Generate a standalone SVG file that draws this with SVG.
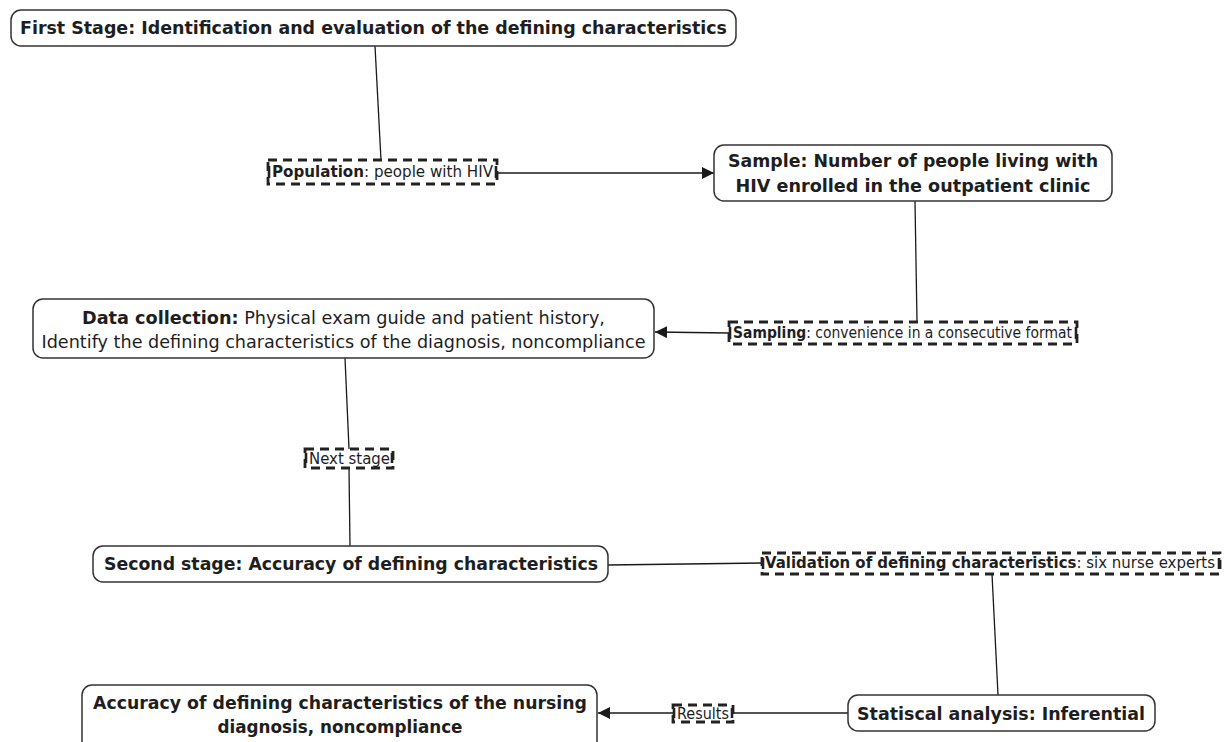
<svg xmlns="http://www.w3.org/2000/svg" width="1230" height="742" viewBox="0 0 1230 742">
<defs>
<marker id="arr" viewBox="0 0 10 10" refX="10" refY="5" markerWidth="12" markerHeight="12" markerUnits="userSpaceOnUse" orient="auto"><path d="M0,0 L10,5 L0,10 z" fill="#1a1a1a"/></marker>
<style>
.node{fill:#fff;stroke:#333;stroke-width:1.5}
.lab{fill:#fff;stroke:#222;stroke-width:2.8;stroke-dasharray:9 6}
.tick{stroke:#222;stroke-width:2.6}
.edge{stroke:#1a1a1a;stroke-width:1.3;fill:none}
text{font-family:"DejaVu Sans","Verdana",sans-serif;fill:#1e1e1e}
.b{font-weight:bold}
.t16{font-size:17px}
.t14{font-size:15px}
</style>
</defs>
<rect width="1230" height="742" fill="#fff"/>
<g id="connectors">
<path class="edge" d="M375,46 L381,160"/>
<path class="edge" d="M497,173 L714,173" marker-end="url(#arr)"/>
<path class="edge" d="M915,201 L917,322"/>
<path class="edge" d="M729,333 L655,332" marker-end="url(#arr)"/>
<path class="edge" d="M345,358 L349,449"/>
<path class="edge" d="M349,468 L350,546"/>
<path class="edge" d="M608,565 L763,563"/>
<path class="edge" d="M992,574 L998,695"/>
<path class="edge" d="M848,713 L733,713"/>
<path class="edge" d="M673,713 L598,713" marker-end="url(#arr)"/>
</g>
<g id="n1">
<rect class="node" x="11" y="10" width="725" height="36" rx="10"/>
<text class="b t16" x="373.5" y="34" text-anchor="middle" textLength="707" lengthAdjust="spacingAndGlyphs">First Stage: Identification and evaluation of the defining characteristics</text>
</g>
<g id="l1">
<rect class="lab" x="268" y="160" width="229" height="24"/>
<line class="tick" x1="269" y1="166" x2="269" y2="178"/><line class="tick" x1="496" y1="166" x2="496" y2="178"/>
<text class="t14" x="272" y="177" textLength="221" lengthAdjust="spacingAndGlyphs"><tspan class="b">Population</tspan>: people with HIV</text>
</g>
<g id="n2">
<rect class="node" x="714" y="145" width="398" height="56" rx="10"/>
<text class="b t16" x="913" y="167" text-anchor="middle" textLength="370" lengthAdjust="spacingAndGlyphs">Sample: Number of people living with</text>
<text class="b t16" x="913" y="192" text-anchor="middle" textLength="355" lengthAdjust="spacingAndGlyphs">HIV enrolled in the outpatient clinic</text>
</g>
<g id="l2">
<rect class="lab" x="729" y="322" width="348" height="22"/>
<line class="tick" x1="730" y1="327" x2="730" y2="339"/><line class="tick" x1="1076" y1="327" x2="1076" y2="339"/>
<text class="t14" x="733" y="338" textLength="339" lengthAdjust="spacingAndGlyphs"><tspan class="b">Sampling</tspan>: convenience in a consecutive format</text>
</g>
<g id="n3">
<rect class="node" x="33" y="299" width="621" height="59" rx="10"/>
<text class="t16" x="343.5" y="324" text-anchor="middle" textLength="523" lengthAdjust="spacingAndGlyphs"><tspan class="b">Data collection:</tspan> Physical exam guide and patient history,</text>
<text class="t16" x="343.5" y="348" text-anchor="middle" textLength="604" lengthAdjust="spacingAndGlyphs">Identify the defining characteristics of the diagnosis, noncompliance</text>
</g>
<g id="l3">
<rect class="lab" x="305" y="449" width="88" height="19"/>
<line class="tick" x1="306" y1="453" x2="306" y2="463"/><line class="tick" x1="392" y1="453" x2="392" y2="463"/>
<text class="t14" x="309" y="464" textLength="81" lengthAdjust="spacingAndGlyphs">Next stage</text>
</g>
<g id="n4">
<rect class="node" x="93" y="546" width="515" height="36" rx="10"/>
<text class="b t16" x="351" y="570" text-anchor="middle" textLength="494" lengthAdjust="spacingAndGlyphs">Second stage: Accuracy of defining characteristics</text>
</g>
<g id="l4">
<rect class="lab" x="762" y="553" width="458" height="21"/>
<line class="tick" x1="763" y1="558" x2="763" y2="569"/><line class="tick" x1="1219" y1="558" x2="1219" y2="569"/>
<text class="t14" x="765" y="568" textLength="450" lengthAdjust="spacingAndGlyphs"><tspan class="b">Validation of defining characteristics</tspan>: six nurse experts</text>
</g>
<g id="n5">
<rect class="node" x="848" y="695" width="307" height="36" rx="10"/>
<text class="b t16" x="1001" y="720" text-anchor="middle" textLength="288" lengthAdjust="spacingAndGlyphs">Statiscal analysis: Inferential</text>
</g>
<g id="l5">
<rect class="lab" x="673" y="705" width="60" height="17"/>
<line class="tick" x1="674" y1="708" x2="674" y2="718"/><line class="tick" x1="732" y1="708" x2="732" y2="718"/>
<text class="t14" x="677" y="719" textLength="52" lengthAdjust="spacingAndGlyphs">Results</text>
</g>
<g id="n6">
<rect class="node" x="82" y="685" width="515" height="70" rx="10"/>
<text class="b t16" x="340" y="709" text-anchor="middle" textLength="494" lengthAdjust="spacingAndGlyphs">Accuracy of defining characteristics of the nursing</text>
<text class="b t16" x="340" y="733" text-anchor="middle" textLength="245" lengthAdjust="spacingAndGlyphs">diagnosis, noncompliance</text>
</g>
</svg>
